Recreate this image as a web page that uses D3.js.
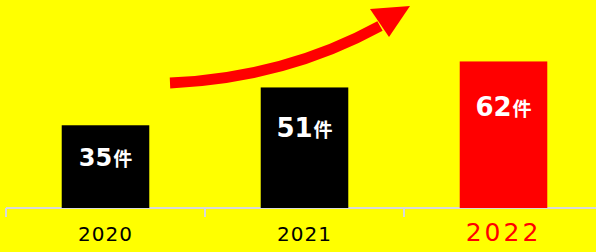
<!DOCTYPE html>
<html><head><meta charset="utf-8">
<script src="https://cdn.jsdelivr.net/npm/d3@7"></script>
<style>body{margin:0;background:#ffff00}svg{display:block}</style>
</head><body>
<script>
const categories = ["2020", "2021", "2022"];
const values = [35, 51, 62];
const unit = "件";
const barColors = ["#000000", "#000000", "#ff0000"];

const W = 596, H = 252;
const svg = d3.select("body").append("svg").attr("width", W).attr("height", H);
svg.append("rect").attr("width", W).attr("height", H).attr("fill", "#ffff00");

const x = d3.scaleBand().domain(categories).range([6, 603]).paddingInner(0.56).paddingOuter(0.28);
const y = d3.scaleLinear().domain([0, 88]).range([208, 0]);

// axis
const axisG = svg.append("g").attr("transform", "translate(0,208)");
axisG.append("line").attr("x1", 6).attr("x2", W).attr("stroke", "#d9d9d9").attr("stroke-width", 2);
const step = x.step();
[0, 1, 2, 3].forEach(i => {
  const tx = 6 + i * step;
  axisG.append("line").attr("x1", tx).attr("x2", tx).attr("y1", 0).attr("y2", 9)
    .attr("stroke", "#d9d9d9").attr("stroke-width", 2);
});

svg.selectAll("rect.bar").data(values).enter().append("rect").attr("class", "bar")
  .attr("x", (d, i) => x(categories[i]))
  .attr("y", d => y(d))
  .attr("width", x.bandwidth())
  .attr("height", d => y(0) - y(d))
  .attr("fill", (d, i) => barColors[i]);

// value labels
const lbl = svg.selectAll("text.val").data(values).enter().append("text").attr("class", "val")
  .attr("x", (d, i) => x(categories[i]) + x.bandwidth() / 2)
  .attr("y", (d, i) => y(d) + [41, 50, 55][i])
  .attr("text-anchor", "middle")
  .attr("fill", "#ffffff")
  .attr("font-family", "DejaVu Sans, sans-serif")
  .attr("font-weight", "bold");
lbl.append("tspan").attr("font-size", (d, i) => i === 0 ? 24 : 26).text(d => d);
lbl.append("tspan").attr("font-size", 19).attr("font-family", "Noto Sans CJK JP").attr("dx", 1).text(unit);

// category labels
svg.selectAll("text.cat").data(categories).enter().append("text").attr("class", "cat")
  .attr("x", d => x(d) + x.bandwidth() / 2)
  .attr("y", (d, i) => i === 2 ? 241 : 241)
  .attr("text-anchor", "middle")
  .attr("font-family", "DejaVu Sans, sans-serif")
  .attr("font-size", (d, i) => i === 2 ? 25 : 20)
  .attr("fill", (d, i) => i === 2 ? "#ff0000" : "#000000")
  .attr("letter-spacing", (d, i) => i === 2 ? 3 : 1)
  .text(d => d);

// arrow
svg.append("path")
  .attr("d", "M170,83 Q285,78 380,26")
  .attr("fill", "none").attr("stroke", "#ff0000").attr("stroke-width", 11);
svg.append("path")
  .attr("d", "M410,6 L370,9 L389,37 Z")
  .attr("fill", "#ff0000");
</script>
</body></html>
